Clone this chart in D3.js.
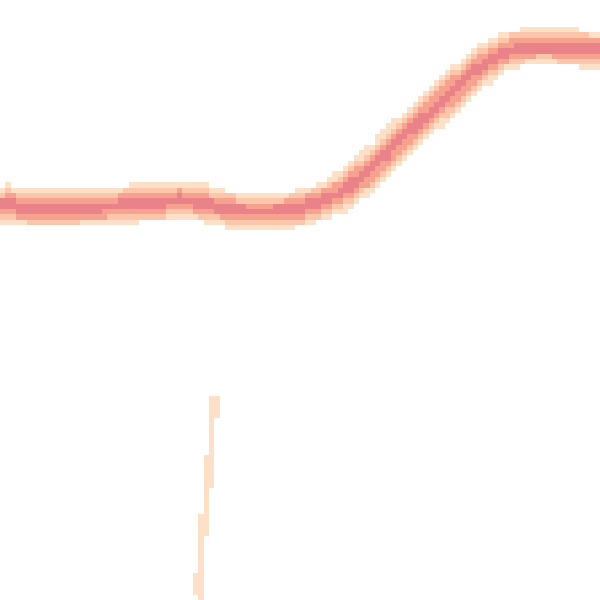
<!DOCTYPE html>
<html>
<head>
<meta charset="utf-8">
<script src="https://cdn.jsdelivr.net/npm/d3@7"></script>
<style>
  body { margin: 0; background: #fff; }
  canvas { display: block; width: 600px; height: 600px; image-rendering: pixelated; }
</style>
</head>
<body>
<div id="chart"></div>
<script>
// main series, sampled every 4 steps
const steps = [0, 4, 8, 12, 16, 20, 24, 28, 32, 36, 40, 44, 48, 52, 56, 60,
  64, 68, 72, 76, 80, 84, 88, 92, 96, 100, 104, 108, 112, 116, 120]
const values = [66.3, 65.5, 65.3, 65.3, 65.3, 65.5, 65.8, 66.2, 66.3, 66.7, 66.2,
  65.5, 64.8, 64.7, 64.8, 65.3, 66.3, 67.8, 70.3, 73.3, 76.7, 79.8, 82.8, 86.0,
  88.8, 91.0, 92.0, 92.3, 92.2, 92.0, 91.7]

// the one stray series dropping out of the bottom
const dropSteps = [42.8, 42.2, 41.4, 40.4, 39.8, 40.0]
const dropValues = [33.7, 25.0, 17.5, 10.0, 2.5, 0]

const colors = ["#fde0c8", "#fbc6aa", "#f6a28f", "#e98389"]

const grid = 112

const canvas = d3.select("#chart").append("canvas")
  .attr("width", grid)
  .attr("height", grid)
const ctx = canvas.node().getContext("2d")

const x = d3.scaleLinear().domain([0, 120]).range([0, grid])
const y = d3.scaleLinear().domain([0, 100]).range([grid, 0])

const main = steps.map((s, i) => [s, values[i]])
const drop = dropSteps.map((s, i) => [s, dropValues[i]])

const line = d3.line()
  .x(d => x(d[0]))
  .y(d => y(d[1]))
  .curve(d3.curveMonotoneX)
  .context(ctx)

const dropLine = d3.line()
  .x(d => x(d[0]))
  .y(d => y(d[1]))
  .context(ctx)

// accumulate counts in the alpha channel
const unit = 60
ctx.globalCompositeOperation = "lighter"
ctx.strokeStyle = `rgba(255,255,255,${unit / 255})`
ctx.lineJoin = "round"

const widths = [6.6, 4.8, 3.0, 1.1]
widths.forEach(w => {
  ctx.lineWidth = w
  ctx.beginPath()
  line(main)
  ctx.stroke()
})

ctx.lineWidth = 1.1
ctx.beginPath()
dropLine(drop)
ctx.stroke()

// map counts to colour cells
const color = d3.scaleThreshold()
  .domain([0.3, 1.25, 2.15, 3.2])
  .range([null, ...colors])

const img = ctx.getImageData(0, 0, grid, grid)
for (let i = 0; i < img.data.length; i += 4) {
  const c = color(img.data[i + 3] / unit)
  if (c) {
    const rgb = d3.rgb(c)
    img.data[i] = rgb.r
    img.data[i + 1] = rgb.g
    img.data[i + 2] = rgb.b
    img.data[i + 3] = 255
  } else {
    img.data[i + 3] = 0
  }
}
ctx.globalCompositeOperation = "source-over"
ctx.putImageData(img, 0, 0)
</script>
</body>
</html>
